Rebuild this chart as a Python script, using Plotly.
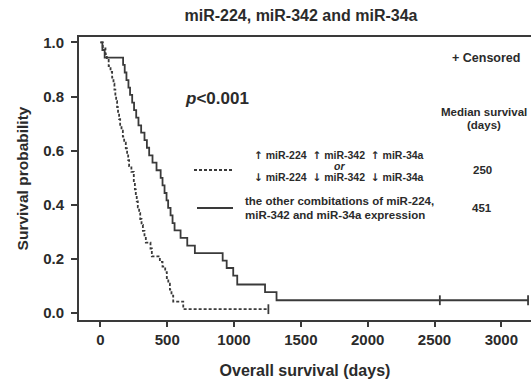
import plotly.graph_objects as go

# Kaplan-Meier step data: time (days) of each event and survival after it
dashed_days = [0, 18, 38, 48, 62, 76, 88, 98, 105, 112, 118, 125, 132, 140, 148, 158,
               168, 178, 190, 200, 208, 215, 232, 250, 258, 265, 272, 280, 290, 298,
               308, 318, 330, 340, 375, 385, 445, 465, 485, 497, 508, 520, 532, 545,
               620, 1257]
dashed_surv = [1.0, 0.978, 0.957, 0.935, 0.913, 0.891, 0.870, 0.848, 0.826, 0.804,
               0.783, 0.761, 0.739, 0.717, 0.696, 0.674, 0.652, 0.630, 0.609, 0.587,
               0.565, 0.543, 0.522, 0.478, 0.457, 0.435, 0.413, 0.391, 0.370, 0.348,
               0.326, 0.304, 0.283, 0.261, 0.239, 0.210, 0.190, 0.172, 0.152, 0.130,
               0.109, 0.087, 0.065, 0.043, 0.015, 0.015]
dashed_censor_days = [1257]
dashed_censor_surv = [0.015]

solid_days = [0, 15, 32, 170, 182, 195, 210, 222, 238, 252, 268, 285, 305, 330, 348,
              365, 390, 420, 451, 465, 480, 495, 507, 525, 540, 555, 600, 650, 707,
              915, 945, 994, 1024, 1232, 1318, 3200]
solid_surv = [1.0, 0.972, 0.944, 0.917, 0.889, 0.861, 0.833, 0.806, 0.778, 0.750,
              0.722, 0.694, 0.667, 0.639, 0.611, 0.583, 0.556, 0.528, 0.500, 0.472,
              0.444, 0.417, 0.389, 0.361, 0.333, 0.306, 0.278, 0.250, 0.222, 0.194,
              0.167, 0.139, 0.106, 0.078, 0.048, 0.048]
solid_censor_days = [2540, 3200]
solid_censor_surv = [0.048, 0.048]

x_ticks = [0, 500, 1000, 1500, 2000, 2500, 3000]
y_ticks = [0.0, 0.2, 0.4, 0.6, 0.8, 1.0]
y_tick_text = ["0.0", "0.2", "0.4", "0.6", "0.8", "1.0"]

median_dashed = "250"
median_solid = "451"

INK = "#2b2b2b"
LINE = "#3a3a3a"
FONT = "Liberation Sans, Arial, sans-serif"
ARROW_FONT = "DejaVu Sans"

W, H = 531, 383
L, R, T, B = 79, 0, 37, 63
PW, PH = W - L - R, H - T - B


def px(x):
    return (x - L) / PW


def py(y):
    return (H - B - y) / PH


fig = go.Figure()

fig.add_trace(go.Scatter(x=dashed_days, y=dashed_surv, mode="lines", line_shape="hv",
                         line=dict(color=LINE, width=1.8, dash="3px,2px"),
                         showlegend=False, hoverinfo="skip"))
fig.add_trace(go.Scatter(x=solid_days, y=solid_surv, mode="lines", line_shape="hv",
                         line=dict(color=LINE, width=1.8),
                         showlegend=False, hoverinfo="skip"))
fig.add_trace(go.Scatter(x=dashed_censor_days + solid_censor_days,
                         y=dashed_censor_surv + solid_censor_surv, mode="markers",
                         marker=dict(symbol="line-ns", size=7,
                                     line=dict(color=LINE, width=1.8)),
                         showlegend=False, hoverinfo="skip"))

bold = dict(family=FONT, color=INK, weight=700)

fig.update_layout(
    width=W, height=H,
    margin=dict(l=L, r=R, t=T, b=B),
    paper_bgcolor="white", plot_bgcolor="white",
    title=dict(text="miR-224, miR-342 and miR-34a", x=px(301), xref="paper",
               xanchor="center", y=1 - 15 / H, yanchor="middle",
               font=dict(size=16, **bold)),
    xaxis=dict(range=[-160, 3222], tickvals=x_ticks, ticks="outside", ticklen=5,
               tickwidth=1.5, tickcolor=LINE, showline=True, linewidth=2,
               linecolor=LINE, mirror=True, showgrid=False, zeroline=False,
               ticklabelstandoff=0,
               tickfont=dict(size=15, **bold),
               title=dict(text="Overall survival (days)", standoff=18,
                          font=dict(size=16, **bold))),
    yaxis=dict(range=[-0.025, 1.02], tickvals=y_ticks, ticktext=y_tick_text,
               ticks="outside", ticklen=6, tickwidth=1.5, tickcolor=LINE,
               showline=True, linewidth=2, linecolor=LINE, showgrid=False,
               zeroline=False, ticklabelstandoff=4, tickfont=dict(size=15, **bold),
               title=dict(text="Survival probability", standoff=11,
                          font=dict(size=15.5, **bold))),
)


def note(text, x, y, size, anchor="center", **extra):
    fig.add_annotation(text=text, x=px(x), y=py(y), xref="paper", yref="paper",
                       xanchor=anchor, yanchor="middle", showarrow=False,
                       font=dict(size=size, **bold), **extra)


up = f"<span style='font-family:{ARROW_FONT}'>\u2191</span>"
down = f"<span style='font-family:{ARROW_FONT}'>\u2193</span>"

note("+ Censored", 486, 58, 12.5)
note("<i>p</i>&lt;0.001", 183, 98, 17, anchor="left")
note("Median survival", 484, 112, 11.5)
note("(days)", 484, 125, 11.5)
note(f"{up} miR-224  {up} miR-342  {up} miR-34a", 339, 155, 10.5)
note("<i>or</i>", 339, 166, 10.5)
note(f"{down} miR-224  {down} miR-342  {down} miR-34a", 339, 177, 10.5)
note(median_dashed, 482, 170, 11.5)
note("the other combitations of miR-224,", 243, 201, 11.5, anchor="left")
note("miR-342 and miR-34a expression", 243, 215, 11.5, anchor="left")
note(median_solid, 482, 208, 11.5)

# legend line samples
fig.add_shape(type="line", xref="paper", yref="paper", x0=px(194), x1=px(233),
              y0=py(170), y1=py(170), line=dict(color=LINE, width=1.8, dash="3px,2px"))
fig.add_shape(type="line", xref="paper", yref="paper", x0=px(197), x1=px(233),
              y0=py(208), y1=py(208), line=dict(color=LINE, width=1.8))

fig.write_html("out.html")
